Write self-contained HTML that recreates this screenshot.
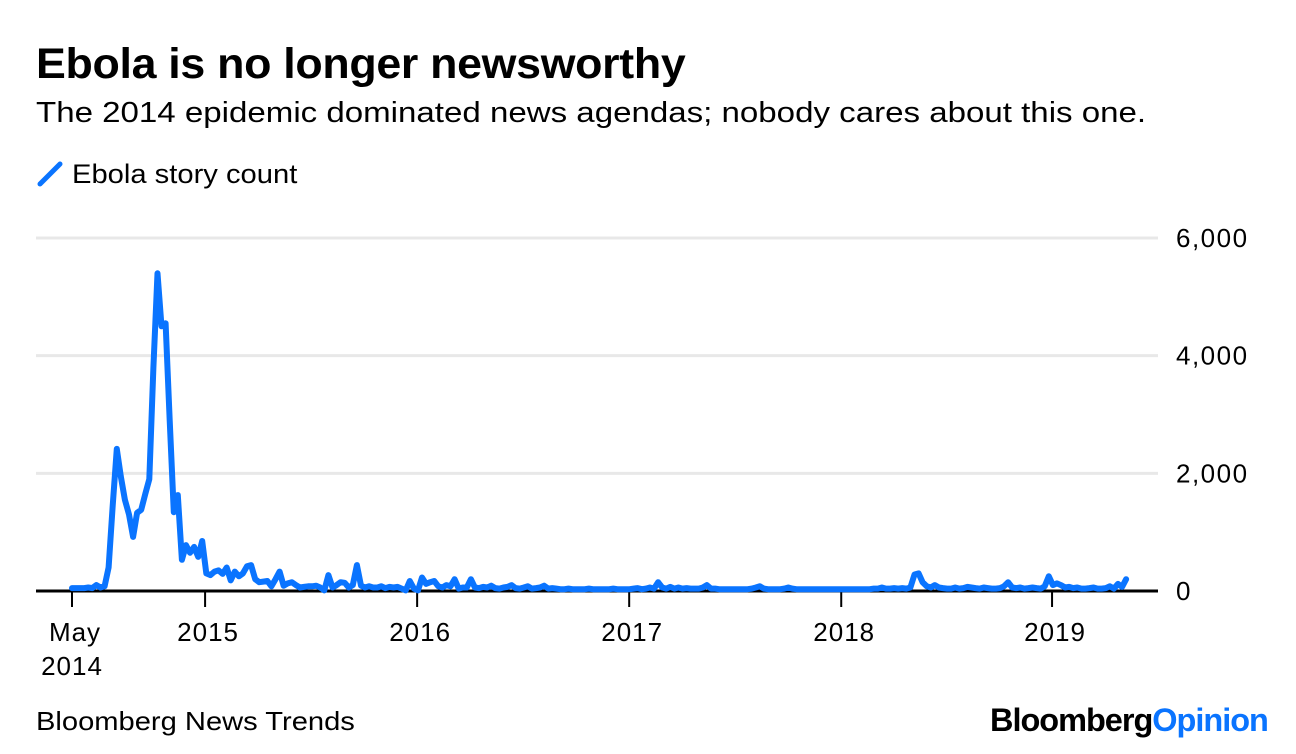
<!DOCTYPE html>
<html><head><meta charset="utf-8">
<style>
body{margin:0;width:1296px;height:754px;background:#fff;font-family:"Liberation Sans",sans-serif;overflow:hidden;position:relative}
.t{position:absolute;white-space:nowrap;color:#000;transform-origin:0 0}
</style></head><body>
<div class="t" style="left:36px;top:40px;font-size:43px;font-weight:bold;letter-spacing:-0.3px;transform:scaleX(1.04)">Ebola is no longer newsworthy</div>
<div class="t" style="left:36px;top:97px;font-size:29px;transform:scaleX(1.14)">The 2014 epidemic dominated news agendas; nobody cares about this one.</div>
<div style="position:absolute;left:36px;top:160px;">
<svg width="30" height="30"><line x1="4" y1="24" x2="24" y2="4" stroke="#0a74ff" stroke-width="5" stroke-linecap="round"/></svg>
<span class="t" style="left:36px;top:-1px;font-size:27px;transform:scaleX(1.08)">Ebola story count</span></div>
<svg id="chart" width="1296" height="754" style="position:absolute;left:0;top:0"></svg>
<div class="t" style="left:36px;top:706px;font-size:26px;transform:scaleX(1.12)">Bloomberg News Trends</div>
<div class="t" style="left:990px;top:702px;font-size:32px;font-weight:bold;letter-spacing:-1px;transform:scaleX(1.015)">Bloomberg<span style="color:#0a74ff">Opinion</span></div>
<script>
const values=[50,50,50,50,60,50,100,60,80,400,1450,2415,1950,1550,1300,920,1330,1380,1650,1900,3800,5400,4500,4550,2900,1340,1630,530,780,650,750,580,850,300,270,330,350,290,400,180,330,250,300,420,440,200,150,160,170,80,200,330,90,130,150,100,60,70,80,80,90,60,10,270,60,100,150,140,60,100,440,90,60,80,60,60,80,50,70,60,70,40,10,170,40,10,230,120,150,170,80,60,100,80,200,40,60,60,200,60,
50,70,60,90,50,40,60,70,100,50,
40,60,80,40,50,60,90,40,50,40,
30,30,40,30,30,30,30,40,30,30,
30,30,30,40,30,30,30,30,40,50,
30,40,60,40,150,60,40,70,40,60,
40,50,40,40,40,60,100,40,40,30,
30,30,30,30,30,30,30,40,60,80,
40,30,30,30,30,40,60,40,30,30,
30,30,30,30,30,30,30,30,30,30,
30,30,30,30,30,30,30,40,40,60,
40,40,50,40,50,40,60,280,300,150,
80,60,100,60,50,40,40,60,40,50,
70,60,50,40,60,50,40,40,50,80,
150,60,50,60,40,50,60,50,40,80,
250,100,130,100,60,70,50,60,40,40,
50,60,40,40,50,80,40,120,70,200];
const xTickWeeks=[0,32.7,84.8,136.9,189,240.8];
const xTickLabels=["May","2015","2016","2017","2018","2019"];
const yTicks=[0,2000,4000,6000];
const yTickLabels=["0","2,000","4,000","6,000"];

const svg=document.getElementById('chart');
const NS='http://www.w3.org/2000/svg';
const x=w=>72+w*4.07;
const y=v=>591-v*(353/6000);
function mk(t,a){const e=document.createElementNS(NS,t);for(const k in a)e.setAttribute(k,a[k]);svg.appendChild(e);return e;}
yTicks.forEach((v,i)=>{
  if(v>0){const g=mk('line',{x1:36,x2:1158,y1:y(v),y2:y(v),stroke:'#e8e8e8','stroke-width':3});
  
  }
  const t=mk('text',{x:1176,y:y(v)+9,'font-size':26,'letter-spacing':1.5,'font-family':'Liberation Sans, sans-serif'});
  t.textContent=yTickLabels[i];
  
  
});
xTickWeeks.forEach((w,i)=>{
  const tk=mk('line',{x1:x(w),x2:x(w),y1:591,y2:607,stroke:'#000','stroke-width':2});
  
  
  const t=mk('text',{x:x(w)+3,y:641,'text-anchor':'middle','font-size':26,'letter-spacing':1,'font-family':'Liberation Sans, sans-serif'});
  t.textContent=xTickLabels[i];
  
  
});
const sub=mk('text',{x:x(0),y:675,'text-anchor':'middle','font-size':26,'letter-spacing':1,'font-family':'Liberation Sans, sans-serif'});
sub.textContent='2014';


const ax=mk('line',{x1:36,x2:1158,y1:591,y2:591,stroke:'#000','stroke-width':3});


const pts=values.map((v,i)=>x(i).toFixed(1)+','+y(v).toFixed(1)).join(' ');
const pl=mk('polyline',{points:pts,fill:'none',stroke:'#0a74ff','stroke-width':6,'stroke-linejoin':'round','stroke-linecap':'round'});


</script>
</body></html>
